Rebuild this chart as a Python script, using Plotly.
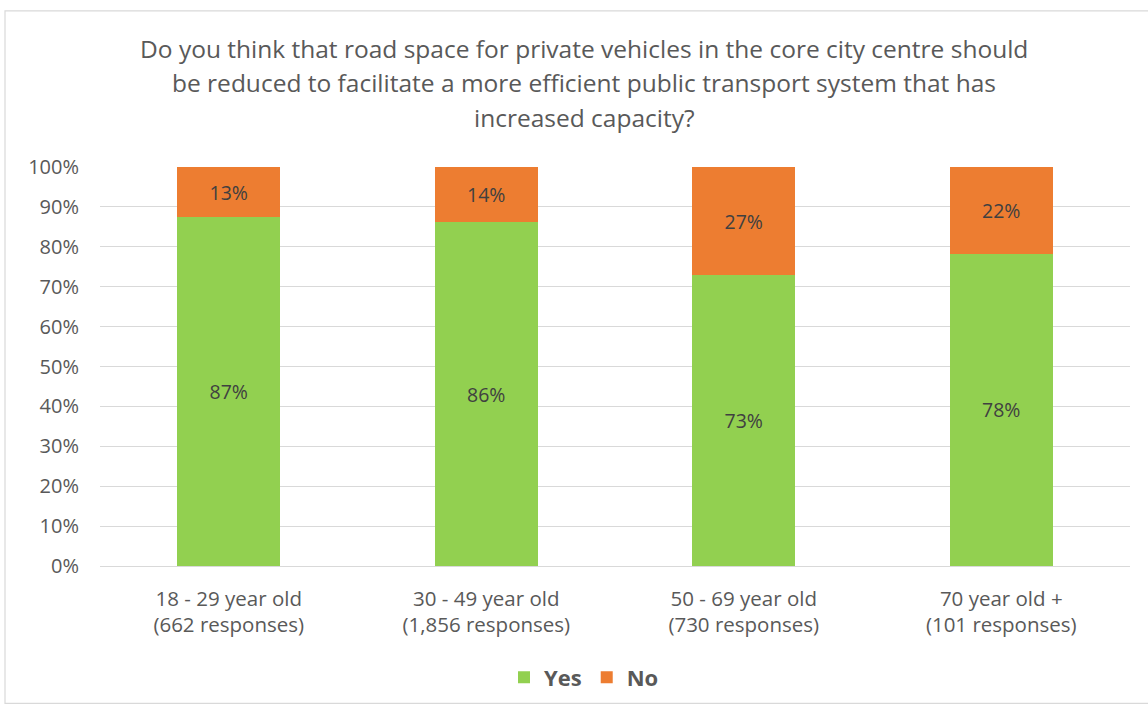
import plotly.graph_objects as go

categories = ["18 - 29 year old<br>(662 responses)", "30 - 49 year old<br>(1,856 responses)",
              "50 - 69 year old<br>(730 responses)", "70 year old +<br>(101 responses)"]
yes_vals = [87.4, 86.1, 72.9, 78.2]
no_vals = [12.6, 13.9, 27.1, 21.8]
yes_labels = ["87%", "86%", "73%", "78%"]
no_labels = ["13%", "14%", "27%", "22%"]
title_lines = ["Do you think that road space for private vehicles in the core city centre should",
               "be reduced to facilitate a more efficient public transport system that has",
               "increased capacity?"]

FONT = "Open Sans"
TXT = "#595959"

fig = go.Figure()
fig.add_trace(go.Bar(x=categories, y=yes_vals, name="<b>Yes</b>", marker=dict(color="#92D050", line=dict(width=0)),
                     text=yes_labels, textposition="inside", insidetextanchor="middle",
                     textfont=dict(size=19.5, color="#404040", family=FONT), hoverinfo="skip"))
fig.add_trace(go.Bar(x=categories, y=no_vals, name="<b>No</b>", marker=dict(color="#ED7D31", line=dict(width=0)),
                     text=no_labels, textposition="inside", insidetextanchor="middle",
                     textfont=dict(size=19.5, color="#404040", family=FONT), hoverinfo="skip"))

W, H = 1148, 711
L, R, T, B = 100, 18, 167, 143
pw, ph = W - L - R, H - T - B

def px(x):
    return (x - L) / pw

def py(y):
    return (H - B - y) / ph

annots = []
for i, line in enumerate(title_lines):
    annots.append(dict(text=line, x=px(584), y=py(48 + i * 34.5), xref="paper", yref="paper",
                       showarrow=False, xanchor="center", yanchor="middle",
                       font=dict(size=24.5, color=TXT, family=FONT)))

fig.update_layout(
    width=W, height=H, barmode="stack", bargap=0.6,
    margin=dict(l=L, r=R, t=T, b=B, pad=0),
    plot_bgcolor="white", paper_bgcolor="white",
    font=dict(family=FONT, color=TXT, size=18),
    showlegend=True,
    legend=dict(orientation="h", x=px(584), xanchor="center", y=py(680), yanchor="middle",
                font=dict(size=22, color=TXT, family=FONT), traceorder="normal",
                itemwidth=30),
    annotations=annots,
    shapes=[dict(type="rect", xref="paper", yref="paper", x0=px(5), x1=px(1160), y0=py(706), y1=py(10),
                 line=dict(color="#D9D9D9", width=1.2), fillcolor="rgba(0,0,0,0)", layer="below")],
)
fig.update_yaxes(range=[0, 100], dtick=10, ticksuffix="%", showgrid=True, gridcolor="#D9D9D9", gridwidth=1.3,
                 zeroline=False, showline=False, ticks="", ticklabelstandoff=20,
                 tickfont=dict(size=20, color=TXT), fixedrange=True)
fig.update_xaxes(showline=True, linecolor="#D9D9D9", linewidth=1.3, ticks="", ticklabelstandoff=14,
                 tickfont=dict(size=20.5, color=TXT), fixedrange=True)

fig.write_html("out.html", config={"displayModeBar": False},
               post_script="document.body.style.margin='0';")
